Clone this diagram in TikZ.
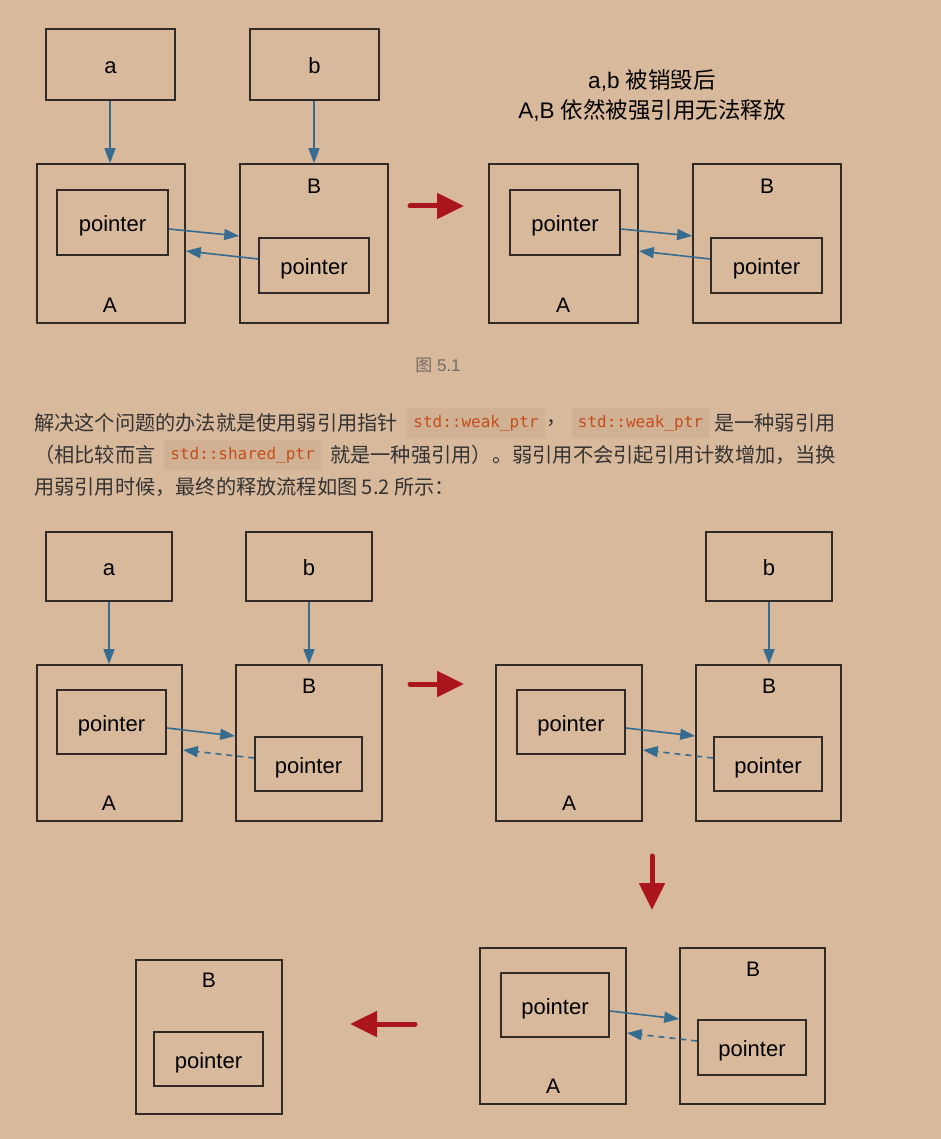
\documentclass[tikz,border=0pt]{standalone}
\usepackage{fontspec}
\usepackage{graphicx}
\setmainfont{Liberation Sans}
\newfontfamily\cjk{Noto Sans CJK SC}
\newfontfamily\codefont{DejaVu Sans Mono}
\usetikzlibrary{arrows.meta,calc}
\definecolor{bgc}{RGB}{217,185,155}
\definecolor{boxc}{RGB}{50,42,38}
\definecolor{bluc}{RGB}{55,108,145}
\definecolor{redc}{RGB}{170,22,28}
\definecolor{txtc}{RGB}{51,51,51}
\definecolor{codec}{RGB}{196,78,28}
\definecolor{codebg}{RGB}{209,177,147}
\definecolor{capc}{RGB}{115,108,102}
\tikzset{
  box/.style={draw=boxc, line width=1.7pt, inner sep=0pt, text height=19pt, text depth=1pt, font=\fontsize{22}{26}\selectfont, text=black},
  lbl/.style={inner sep=0pt, text height=18.5pt, text depth=1.5pt, font=\fontsize{21}{24}\selectfont, text=black},
  ptr/.style={draw=bluc, line width=1.6pt, -{Triangle[length=15pt,width=11pt]}},
  wptr/.style={ptr, dash pattern=on 6pt off 5pt},
  big/.style={draw=redc, line width=5pt, line cap=round, -{Triangle[length=27pt,width=25pt]}},
  para/.style={inner sep=0pt, anchor=west, text=txtc, font=\cjk\fontsize{20.2}{24}\selectfont},
  code/.style={fill=codebg, text=codec, inner xsep=6pt, minimum height=30pt, font=\codefont\fontsize{16}{18}\selectfont},
}
\begin{document}
\begin{tikzpicture}[x=1pt,y=-1pt]
\fill[bgc] (0,0) rectangle (941,1139);
\useasboundingbox (0,0) rectangle (941,1139);

% ---------- Figure 5.1 ----------
\node[box, minimum width=129, minimum height=71] (a1) at (110.5,64.5) {a};
\node[box, minimum width=129, minimum height=71] (b1) at (314.5,64.5) {b};
\node[box, minimum width=148, minimum height=159] (A1) at (111,243.5) {};
\node[box, minimum width=111, minimum height=65] (pA1) at (112.5,222.5) {pointer};
\node[box, minimum width=148, minimum height=159] (B1) at (314,243.5) {};
\node[box, minimum width=110, minimum height=55] (pB1) at (314,265.5) {pointer};
\node[lbl] (lA1) at (110,304) {A};
\node[lbl] (lB1) at (314,185) {B};
\draw[ptr] (a1.south -| 110,0) -- (A1.north -| 110,0);
\draw[ptr] (b1.south -| 314,0) -- (B1.north -| 314,0);
\draw[ptr] ($(pA1.east)+(0,6.5)$) -- ($(B1.west)+(0,-7.5)$);
\draw[ptr] ($(pB1.west)+(0,-6.5)$) -- ($(A1.east)+(0,7.5)$);

\coordinate (r1s) at (410,206);
\coordinate (r1e) at (464,206);
\draw[big] (r1s) -- (r1e);

\node[inner sep=0pt, font=\fontsize{22.5}{26}\selectfont] (t1) at (652,80) {a,b \cjk 被销毁后};
\node[inner sep=0pt, font=\fontsize{22.5}{26}\selectfont] (t2) at (652,110) {A,B \cjk 依然被强引用无法释放};

\node[box, minimum width=149, minimum height=159] (A2) at (563.5,243.5) {};
\node[box, minimum width=110, minimum height=65] (pA2) at (565,222.5) {pointer};
\node[box, minimum width=148, minimum height=159] (B2) at (767,243.5) {};
\node[box, minimum width=111, minimum height=55] (pB2) at (766.5,265.5) {pointer};
\node[lbl] (lA2) at (563,304) {A};
\node[lbl] (lB2) at (767,185) {B};
\draw[ptr] ($(pA2.east)+(0,6.5)$) -- ($(B2.west)+(0,-7.5)$);
\draw[ptr] ($(pB2.west)+(0,-6.5)$) -- ($(A2.east)+(0,7.5)$);

\node[inner sep=0pt, text=capc, font=\fontsize{17}{20}\selectfont] (cap1) at (438,365) {{\cjk 图} 5.1};

% ---------- Paragraph ----------
\node[para] (l1a) at (34,423) {解决这个问题的办法就是使用弱引用指针};
\node[code] (c1) at (476,423) {std::weak\_ptr};
\node[para] (l1b) at (546,423) {，};
\node[code] (c2) at (640.5,423) {std::weak\_ptr};
\node[para] (l1c) at (714,423) {是一种弱引用};
\node[para] (l2a) at (34,455) {（相比较而言};
\node[code] (c3) at (242.5,455) {std::shared\_ptr};
\node[para] (l2b) at (330,455) {\resizebox{506pt}{\height}{就是一种强引用）。弱引用不会引起引用计数增加，当换}};
\node[para] (l3) at (34,487) {用弱引用时候，最终的释放流程如图 5.2 所示：};

% ---------- Figure 5.2 ----------
\node[box, minimum width=126, minimum height=69] (a3) at (109,566.5) {a};
\node[box, minimum width=126, minimum height=69] (b3) at (309,566.5) {b};
\node[box, minimum width=145, minimum height=156] (A3) at (109.5,743) {};
\node[box, minimum width=109, minimum height=64] (pA3) at (111.5,722) {pointer};
\node[box, minimum width=146, minimum height=156] (B3) at (309,743) {};
\node[box, minimum width=107, minimum height=54] (pB3) at (308.5,764) {pointer};
\node[lbl] (lA3) at (109,802) {A};
\node[lbl] (lB3) at (309,685) {B};
\draw[ptr] (a3.south -| 109,0) -- (A3.north -| 109,0);
\draw[ptr] (b3.south -| 309,0) -- (B3.north -| 309,0);
\draw[ptr] ($(pA3.east)+(0,6)$) -- ($(B3.west)+(0,-7)$);
\draw[wptr] ($(pB3.west)+(0,-6)$) -- ($(A3.east)+(0,7)$);

\coordinate (r2s) at (410,684);
\coordinate (r2e) at (464,684);
\draw[big] (r2s) -- (r2e);

\node[box, minimum width=126, minimum height=69] (b4) at (769,566.5) {b};
\node[box, minimum width=146, minimum height=156] (A4) at (569,743) {};
\node[box, minimum width=108, minimum height=64] (pA4) at (571,722) {pointer};
\node[box, minimum width=145, minimum height=156] (B4) at (768.5,743) {};
\node[box, minimum width=108, minimum height=54] (pB4) at (768,764) {pointer};
\node[lbl] (lA4) at (569,802) {A};
\node[lbl] (lB4) at (769,685) {B};
\draw[ptr] (b4.south -| 769,0) -- (B4.north -| 769,0);
\draw[ptr] ($(pA4.east)+(0,6)$) -- ($(B4.west)+(0,-7)$);
\draw[wptr] ($(pB4.west)+(0,-6)$) -- ($(A4.east)+(0,7)$);

\coordinate (r3s) at (652,856);
\coordinate (r3e) at (652,910);
\draw[big] (r3s) -- (r3e);

\node[box, minimum width=146, minimum height=156] (A5) at (553,1026) {};
\node[box, minimum width=108, minimum height=64] (pA5) at (555,1005) {pointer};
\node[box, minimum width=145, minimum height=156] (B5) at (752.5,1026) {};
\node[box, minimum width=108, minimum height=55] (pB5) at (752,1047.5) {pointer};
\node[lbl] (lA5) at (553,1085) {A};
\node[lbl] (lB5) at (753,968) {B};
\draw[ptr] ($(pA5.east)+(0,6)$) -- ($(B5.west)+(0,-7)$);
\draw[wptr] ($(pB5.west)+(0,-6.5)$) -- ($(A5.east)+(0,7)$);

\coordinate (r4s) at (415,1024);
\coordinate (r4e) at (350,1024);
\draw[big] (r4s) -- (r4e);

\node[box, minimum width=146, minimum height=154] (B6) at (209,1037) {};
\node[box, minimum width=109, minimum height=54] (pB6) at (208.5,1059) {pointer};
\node[lbl] (lB6) at (209,979) {B};
\end{tikzpicture}
\end{document}
